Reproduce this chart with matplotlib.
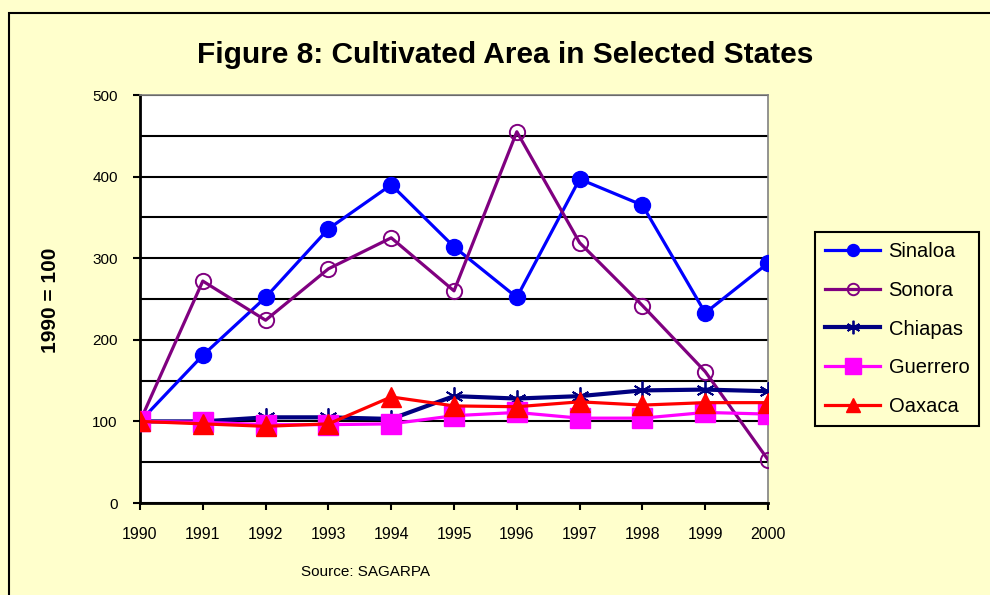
import matplotlib.pyplot as plt
from matplotlib.patches import Rectangle
from matplotlib.ticker import MultipleLocator

years = [1990, 1991, 1992, 1993, 1994, 1995, 1996, 1997, 1998, 1999, 2000]
sinaloa = [100, 181, 252, 336, 390, 314, 252, 397, 365, 233, 294]
sonora = [100, 272, 224, 287, 325, 260, 455, 319, 242, 161, 53]
chiapas = [100, 100, 105, 105, 103, 131, 128, 131, 138, 139, 137]
guerrero = [100, 99, 96, 96, 97, 107, 111, 104, 104, 111, 109]
oaxaca = [100, 97, 94, 97, 130, 119, 118, 124, 120, 123, 123]

bg = "#FFFFCC"
plt.rcParams["font.family"] = ["Liberation Sans", "DejaVu Sans"]

fig = plt.figure(figsize=(9.9, 5.95), dpi=100, facecolor=bg)
ax = fig.add_axes([0.1414, 0.1546, 0.6344, 0.6857])
ax.set_facecolor("white")

# figure border (only left and top edges fall inside the picture)
fig.patches.append(Rectangle((9 / 990, -0.2), 1.2, 1.2 - 13 / 595,
                             transform=fig.transFigure, fill=False,
                             edgecolor="black", linewidth=1.5, zorder=0))

lw = 2.3
ax.plot(years, sinaloa, color="#0000FF", lw=lw, marker="o", ms=11.5,
        label="Sinaloa", zorder=3)
ax.plot(years, sonora, color="#800080", lw=lw, marker="o", ms=11,
        mfc="none", mew=1.4, label="Sonora", zorder=3)
ax.plot(years, chiapas, color="#000080", lw=lw + 0.7, marker=(6, 2, 0), ms=13,
        mew=1.3, label="Chiapas", zorder=3)
ax.plot(years, guerrero, color="#FF00FF", lw=lw, marker="s", ms=14.5,
        label="Guerrero", zorder=3)
ax.plot(years, oaxaca, color="#FF0000", lw=lw, marker="^", ms=14,
        label="Oaxaca", zorder=3)

ax.set_xlim(1990, 2000)
ax.set_ylim(0, 500)
ax.set_xticks(years)
ax.set_xticklabels([str(y) for y in years])
ax.yaxis.set_major_locator(MultipleLocator(100))
ax.yaxis.set_minor_locator(MultipleLocator(50))
ax.grid(axis="y", which="both", color="black", lw=1.5, zorder=1)
ax.set_axisbelow(True)
ax.tick_params(axis="y", which="minor", length=0)
ax.tick_params(axis="y", which="major", length=5, width=1.5, pad=11,
               labelsize=11)
ax.tick_params(axis="x", length=5, width=1.5, pad=12, labelsize=11.5)

for side in ["left", "bottom"]:
    ax.spines[side].set_color("black")
    ax.spines[side].set_linewidth(2)
for side in ["top", "right"]:
    ax.spines[side].set_color("#808080")
    ax.spines[side].set_linewidth(1.2)

fig.text(0.51, 0.908, "Figure 8: Cultivated Area in Selected States",
         ha="center", va="center", fontsize=21.5, fontweight="bold")
fig.text(0.051, 0.496, "1990 = 100", rotation=90, ha="center", va="center",
         fontsize=15, fontweight="bold")
fig.text(0.369, 0.038, "Source: SAGARPA", ha="center", va="center",
         fontsize=11)

leg = ax.legend(loc="upper left", bbox_to_anchor=(815 / 990, 1 - 232 / 595),
                bbox_transform=fig.transFigure, borderaxespad=0,
                fontsize=14.5, frameon=True, fancybox=False, framealpha=1,
                facecolor=bg, edgecolor="black", labelspacing=0.98,
                handlelength=2.75, handletextpad=0.4, borderpad=0.5,
                markerscale=0.75)
leg.get_frame().set_linewidth(1.5)

fig.savefig("out.png", dpi=100, facecolor=bg)
